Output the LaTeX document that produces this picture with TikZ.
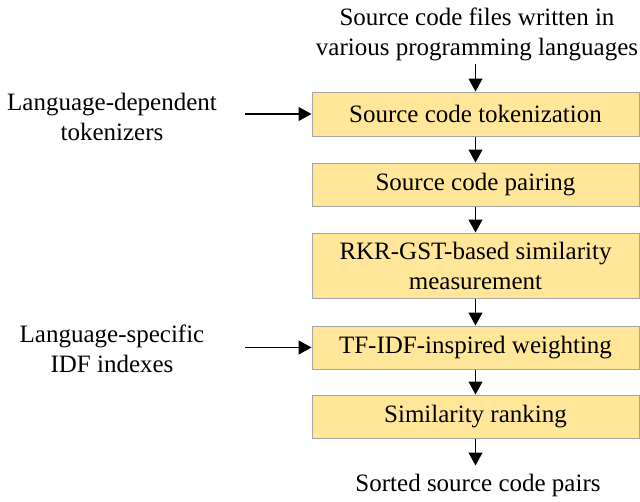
\documentclass[tikz,border=0pt]{standalone}
\usepackage{fontspec}
\setmainfont{Liberation Serif}
\newfontfamily\tnr{Liberation Serif}
\usetikzlibrary{arrows.meta}
\definecolor{boxfill}{HTML}{FFE699}
\definecolor{boxline}{HTML}{A6A6A6}
\tikzset{
  procbox/.style={draw=boxline, line width=1pt, fill=boxfill, minimum width=327pt, inner sep=0pt, align=center, font=\tnr\fontsize{25}{30}\selectfont},
  lbl/.style={align=center, inner sep=0pt, font=\tnr\fontsize{25}{30}\selectfont},
  arr/.style={line width=1.2pt, -{Triangle[length=13pt,width=14pt]}}
}
\begin{document}
\begin{tikzpicture}[x=1pt,y=-1pt]
\useasboundingbox (0,0) rectangle (640,501);
\node[procbox, minimum height=44pt] (b1) at (475.5,114) {Source code tokenization};
\node[procbox, minimum height=43pt] (b2) at (475.5,184.5) {Source code pairing};
\node[procbox, minimum height=65pt] (b3) at (475.5,265.5) {RKR-GST-based similarity\\measurement};
\node[procbox, minimum height=43pt] (b4) at (475.5,347.5) {TF-IDF-inspired weighting};
\node[procbox, minimum height=43pt] (b5) at (475.5,416.5) {Similarity ranking};
\node[lbl] (top) at (477,34) {Source code files written in\\various programming languages};
\node[lbl] (bot) at (478,485) {Sorted source code pairs};
\node[lbl] (l1) at (112,117) {Language-dependent\\tokenizers};
\node[lbl] (l2) at (112,349) {Language-specific\\IDF indexes};
\coordinate (s1) at (245,114);
\coordinate (s2) at (245,347.5);
\draw[arr] (top.south -| b1.north) ++(0,3) -- (b1.north);
\draw[arr] (b1) -- (b2);
\draw[arr] (b2) -- (b3);
\draw[arr] (b3) -- (b4);
\draw[arr] (b4) -- (b5);
\draw[arr] (b5.south) -- ++(0,27);
\draw[arr] (s1) -- (b1.west);
\draw[arr] (s2) -- (b4.west);
\end{tikzpicture}
\end{document}
